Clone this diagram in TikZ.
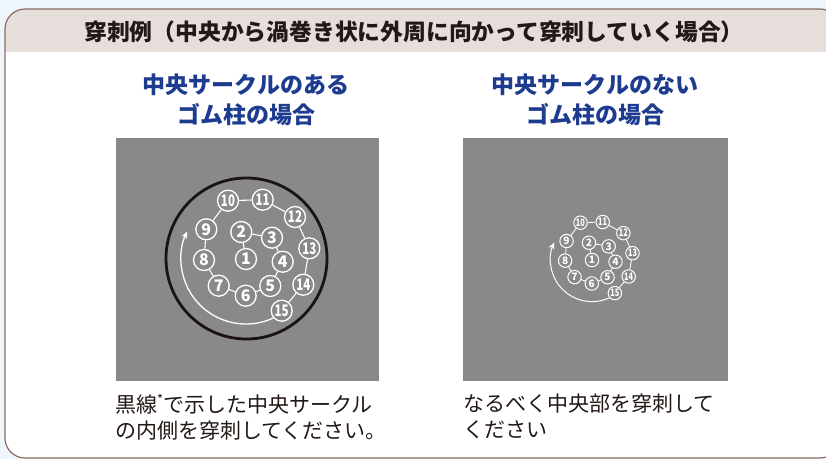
\documentclass[tikz,border=0pt]{standalone}
\usepackage{fontspec}
\newfontfamily\jp{Noto Sans CJK JP}
\newfontfamily\jpheavy{Noto Sans CJK JP Black}
\usetikzlibrary{arrows.meta}
\definecolor{bgblue}{HTML}{EEF6FB}
\definecolor{framebrown}{HTML}{8C6B62}
\definecolor{bandbeige}{HTML}{E6DEDA}
\definecolor{panelgray}{HTML}{898989}
\definecolor{titleblue}{HTML}{1D3C8F}
\definecolor{inkblack}{HTML}{231815}
\definecolor{ringblack}{HTML}{1A1311}
\tikzset{
  num/.style={circle, draw=white, line width=1.3pt, fill=panelgray, minimum size=21pt, inner sep=0pt, text=white, font=\jp\bfseries\fontsize{16}{16}\selectfont},
  link/.style={draw=white, line width=1.1pt},
  turn/.style={draw=white, line width=1.3pt, -{Stealth[length=7pt,width=6pt]}},
  panel/.style={fill=panelgray},
  subtitle/.style={align=center, text=titleblue, font=\jpheavy\fontsize{23}{30}\selectfont},
  note/.style={align=left, anchor=north west, inner sep=0pt, text=inkblack, font=\jp\fontsize{21}{25.5}\selectfont},
}
\newcommand\twodigit[1]{\hbox{\addfontfeature{FakeStretch=0.72}#1}}
\newcommand\spiraldrawing{%
  \node[num] (n1) at (0,0) {1};
  \node[num] (n2) at (-4.7,-27) {2};
  \node[num] (n3) at (26,-21.3) {3};
  \node[num] (n4) at (36.7,2.7) {4};
  \node[num] (n5) at (24.3,27) {5};
  \node[num] (n6) at (-0.3,36.7) {6};
  \node[num] (n7) at (-27.3,26.7) {7};
  \node[num] (n8) at (-42,1) {8};
  \node[num] (n9) at (-39.7,-29.7) {9};
  \node[num] (n10) at (-18,-58.3) {\twodigit{10}};
  \node[num] (n11) at (16.7,-59.3) {\twodigit{11}};
  \node[num] (n12) at (49,-42) {\twodigit{12}};
  \node[num] (n13) at (63.3,-10.7) {\twodigit{13}};
  \node[num] (n14) at (57.3,25.7) {\twodigit{14}};
  \node[num] (n15) at (35.7,51.7) {\twodigit{15}};
  \draw[link] (n1) -- (n2);
  \draw[link] (n2) -- (n3);
  \draw[link] (n3) -- (n4);
  \draw[link] (n4) -- (n5);
  \draw[link] (n5) -- (n6);
  \draw[link] (n6) -- (n7);
  \draw[link] (n7) -- (n8);
  \draw[link] (n8) -- (n9);
  \draw[link] (n9) -- (n10);
  \draw[link] (n10) -- (n11);
  \draw[link] (n11) -- (n12);
  \draw[link] (n12) -- (n13);
  \draw[link] (n13) -- (n14);
  \draw[link] (n14) -- (n15);
  \draw[turn] (0,0) ++(65:65) arc[start angle=65, end angle=205, radius=65];
}
\begin{document}
\begin{tikzpicture}[x=1pt,y=-1pt]
\useasboundingbox (0,0) rectangle (826,459);
\fill[bgblue] (0,0) rectangle (826,459);
% frame
\begin{scope}
  \clip[rounded corners=20pt] (5,9) rectangle (840,458);
  \fill[white] (0,0) rectangle (840,459);
  \fill[bandbeige] (0,0) rectangle (840,52);
\end{scope}
\draw[framebrown, line width=1.2pt, rounded corners=20pt] (5,9) rectangle (840,458);
\node[text=inkblack, font=\jpheavy\fontsize{22.8}{22.8}\selectfont] (title) at (414,32) {穿刺例（中央から渦巻き状に外周に向かって穿刺していく場合）};
% subtitles
\node[subtitle] (subL) at (246,100) {中央サークルのある\\ゴム柱の場合};
\node[subtitle] (subR) at (595,100) {中央サークルのない\\ゴム柱の場合};
% panels
\fill[panel] (116,138) rectangle (379,381);
\fill[panel] (463,138) rectangle (728,381);
% left: ring + spiral
\draw[ringblack, line width=2.8pt] (246.5,258.5) circle[radius=80.5];
\begin{scope}[shift={(246,259)}, name prefix=L-]
  \spiraldrawing
\end{scope}
% right: spiral only, smaller
\begin{scope}[shift={(592,260)}, scale=0.64, transform shape, name prefix=R-,
  num/.append style={line width=1pt}, link/.append style={line width=0.85pt}, turn/.append style={line width=1pt}]
  \spiraldrawing
\end{scope}
% notes
\node[note] (noteL) at (115,394) {黒線\raisebox{0.4em}{\fontsize{13}{13}\selectfont *}で示した中央サークル\\の内側を穿刺してください。};
\node[note] (noteR) at (463,394) {なるべく中央部を穿刺して\\ください};
\end{tikzpicture}
\end{document}
